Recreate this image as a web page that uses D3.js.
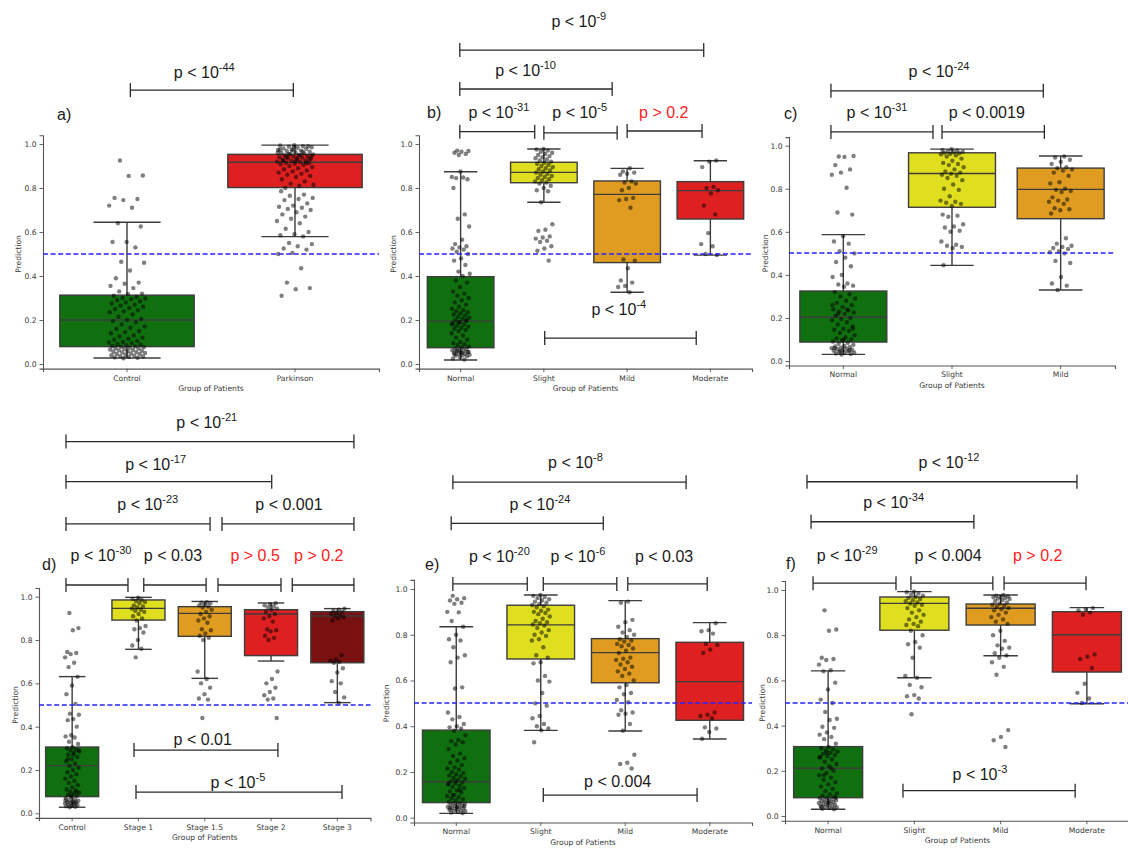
<!DOCTYPE html>
<html>
<head>
<meta charset="utf-8">
<script src="https://cdn.jsdelivr.net/npm/d3@7"></script>
<style>
  body { margin: 0; background: #fff; }
  svg { display: block; }
</style>
</head>
<body>
<svg id="chart" width="1128" height="850"></svg>
<script>
// ---------- data ----------
// box statistics per group: [lower whisker, Q1, median, Q3, upper whisker]

const catsA = ["Control", "Parkinson"];
const statsA = [[0.027, 0.079, 0.200, 0.313, 0.644], [0.579, 0.802, 0.917, 0.953, 0.995]];
const ptsA = [
  [0.925,0.857,0.855,0.755,0.75,0.745,0.72,0.71,0.64,0.625,0.555,0.555,0.53,0.465,0.46,0.425,0.39,0.37,0.365,0.355,0.345,0.33,0.32,0.318,
   0.31,0.305,0.30,0.298,0.295,0.29,0.285,0.28,0.275,0.27,0.265,0.26,0.255,0.25,0.245,0.24,0.235,0.225,0.215,0.205,0.2,0.195,0.19,0.18,0.17,0.165,0.16,0.15,0.145,0.14,0.13,0.125,0.12,0.115,0.11,0.105,0.1,0.098,0.095,0.09,0.088,0.085,0.082,0.08,0.078,0.076,0.074,0.072,0.07,0.068,0.066,0.064,0.062,0.06,0.058,0.056,0.054,0.052,0.05,0.048,0.046,0.044,0.042,0.04,0.038,0.036,0.034,0.032,0.03,0.028,0.026],
  [0.995,0.993,0.99,0.988,0.985,0.983,0.98,0.978,0.975,0.973,0.97,0.968,0.965,0.963,0.96,0.958,0.955,0.953,0.95,0.948,0.945,0.943,0.94,0.938,0.935,0.933,0.93,0.928,0.925,0.923,0.92,0.918,0.915,0.913,0.91,0.908,0.905,0.9,0.895,0.89,0.885,0.88,0.875,0.87,0.865,0.86,0.855,0.85,0.84,0.83,0.82,0.815,0.81,0.8,
   0.99,0.985,0.975,0.965,0.955,0.945,0.935,0.925,0.915,0.97,0.96,0.95,0.94,0.93,0.92,
   0.785,0.77,0.765,0.755,0.75,0.745,0.73,0.72,0.715,0.71,0.705,0.7,0.69,0.68,0.67,0.66,0.65,0.64,0.615,0.6,0.59,0.585,0.58,0.55,0.545,0.535,0.525,0.52,0.505,0.5,0.435,0.37,0.345,0.34,0.31]
];

const catsB = ["Normal", "Slight", "Mild", "Moderate"];
const statsB = [[0.018, 0.074, 0.195, 0.397, 0.874], [0.735, 0.824, 0.871, 0.917, 0.977],
                [0.326, 0.461, 0.771, 0.832, 0.889], [0.495, 0.659, 0.788, 0.829, 0.924]];
const ptsB = [
  [0.97,0.968,0.965,0.96,0.955,0.95,0.85,0.848,0.845,0.84,0.875,0.8,0.68,0.66,0.625,0.565,0.545,0.535,0.53,0.525,0.52,0.51,0.5,0.48,0.47,0.45,0.42,0.41,0.40,
   0.38,0.37,0.35,0.33,0.32,0.31,0.3,0.29,0.28,0.27,0.26,0.25,0.245,0.24,0.235,0.23,0.225,0.22,0.215,0.21,0.205,0.2,0.195,0.19,0.185,0.18,0.175,0.17,0.165,0.16,0.155,0.15,0.14,0.13,0.12,0.11,0.1,0.095,0.09,0.085,0.08,0.075,0.07,0.068,0.065,0.062,0.06,0.058,0.055,0.052,0.05,0.048,0.045,0.042,0.04,0.038,0.035,0.03,0.025,0.02,0.06,0.055,0.05,0.045,0.2,0.19,0.18],
  [0.977,0.975,0.97,0.965,0.96,0.955,0.95,0.945,0.94,0.935,0.93,0.925,0.92,0.915,0.91,0.905,0.9,0.895,0.89,0.885,0.88,0.875,0.87,0.865,0.86,0.855,0.85,0.845,0.84,0.835,0.83,0.825,0.82,0.81,0.8,0.79,0.785,0.735,0.635,0.61,0.605,0.58,0.575,0.57,0.56,0.555,0.535,0.525,0.515,0.47],
  [0.89,0.875,0.87,0.865,0.86,0.83,0.825,0.82,0.8,0.79,0.755,0.75,0.745,0.71,0.475,0.47,0.435,0.38,0.37,0.355,0.35,0.326],
  [0.925,0.92,0.895,0.805,0.8,0.79,0.775,0.72,0.68,0.595,0.545,0.535,0.5,0.495]
];

const catsC = ["Normal", "Slight", "Mild"];
const statsC = [[0.031, 0.088, 0.203, 0.325, 0.587], [0.444, 0.714, 0.871, 0.967, 0.984], [0.330, 0.661, 0.797, 0.896, 0.952]];
const ptsC = [
  [0.95,0.952,0.948,0.91,0.89,0.875,0.865,0.805,0.69,0.68,0.58,0.555,0.545,0.51,0.5,0.48,0.46,0.44,0.4,0.39,0.36,0.355,0.35,0.345,
   0.32,0.31,0.3,0.29,0.28,0.27,0.26,0.25,0.24,0.235,0.23,0.225,0.22,0.21,0.2,0.195,0.19,0.18,0.17,0.16,0.15,0.145,0.14,0.13,0.12,0.11,0.105,0.1,0.095,0.09,0.085,0.08,0.075,0.07,0.068,0.065,0.062,0.06,0.058,0.055,0.052,0.05,0.048,0.045,0.042,0.04,0.038,0.035,0.032,0.03,0.26,0.24,0.22,0.15,0.1,0.06,0.05,0.045],
  [0.984,0.98,0.978,0.975,0.972,0.97,0.968,0.965,0.962,0.96,0.955,0.95,0.94,0.93,0.92,0.915,0.91,0.9,0.89,0.88,0.875,0.87,0.865,0.86,0.85,0.84,0.82,0.8,0.795,0.765,0.745,0.74,0.735,0.73,0.72,0.68,0.675,0.67,0.635,0.625,0.62,0.605,0.6,0.555,0.54,0.535,0.53,0.525,0.445],
  [0.95,0.945,0.935,0.925,0.915,0.9,0.895,0.89,0.885,0.875,0.86,0.83,0.825,0.8,0.795,0.79,0.785,0.76,0.75,0.745,0.74,0.73,0.71,0.705,0.7,0.685,0.57,0.545,0.535,0.53,0.525,0.52,0.51,0.505,0.5,0.465,0.455,0.39,0.36,0.35,0.33]
];

const catsD = ["Control", "Stage 1", "Stage 1.5", "Stage 2", "Stage 3"];
const statsD = [[0.028, 0.077, 0.220, 0.306, 0.631], [0.757, 0.892, 0.946, 0.985, 0.997], [0.623, 0.817, 0.923, 0.954, 0.978],
                [0.703, 0.728, 0.920, 0.940, 0.971], [0.511, 0.695, 0.911, 0.931, 0.945]];
const ptsD = [
  [0.925,0.855,0.845,0.745,0.74,0.735,0.72,0.695,0.675,0.63,0.59,0.55,0.505,0.46,0.455,0.435,0.43,0.4,0.36,0.355,0.35,0.33,0.32,
   0.305,0.3,0.295,0.29,0.285,0.28,0.27,0.26,0.25,0.24,0.23,0.22,0.21,0.2,0.19,0.18,0.17,0.16,0.15,0.14,0.13,0.12,0.11,0.105,0.1,0.095,0.09,0.085,0.08,0.075,0.07,0.065,0.06,0.058,0.055,0.052,0.05,0.048,0.045,0.042,0.04,0.038,0.035,0.032,0.03,0.028,0.29,0.27,0.25,0.1,0.08,0.06,0.05],
  [0.995,0.99,0.985,0.98,0.975,0.97,0.96,0.955,0.95,0.945,0.94,0.935,0.93,0.92,0.91,0.9,0.89,0.865,0.855,0.85,0.835,0.8,0.775,0.76,0.72],
  [0.975,0.972,0.97,0.965,0.96,0.955,0.95,0.94,0.93,0.92,0.91,0.9,0.89,0.88,0.85,0.845,0.83,0.82,0.81,0.8,0.655,0.62,0.6,0.58,0.55,0.53,0.525,0.44],
  [0.97,0.965,0.96,0.955,0.95,0.945,0.94,0.93,0.92,0.91,0.9,0.885,0.85,0.845,0.84,0.82,0.81,0.8,0.655,0.62,0.6,0.58,0.56,0.545,0.53,0.525,0.44],
  [0.945,0.94,0.935,0.93,0.925,0.92,0.915,0.91,0.905,0.9,0.89,0.73,0.71,0.705,0.7,0.695,0.67,0.65,0.61,0.6,0.56,0.535,0.51]
];

const catsE = ["Normal", "Slight", "Mild", "Moderate"];
const statsE = [[0.019, 0.066, 0.157, 0.383, 0.835], [0.382, 0.694, 0.843, 0.929, 0.974],
                [0.379, 0.590, 0.722, 0.783, 0.949], [0.344, 0.426, 0.595, 0.767, 0.853]];
const ptsE = [
  [0.97,0.96,0.955,0.95,0.94,0.935,0.9,0.898,0.86,0.835,0.8,0.78,0.775,0.745,0.71,0.7,0.68,0.57,0.565,0.46,0.44,0.43,0.41,0.4,0.395,0.39,
   0.38,0.36,0.34,0.335,0.33,0.32,0.3,0.28,0.27,0.26,0.25,0.24,0.23,0.22,0.215,0.21,0.2,0.195,0.19,0.185,0.18,0.175,0.17,0.165,0.16,0.155,0.15,0.145,0.14,0.135,0.13,0.12,0.115,0.11,0.1,0.095,0.09,0.085,0.08,0.075,0.07,0.065,0.062,0.06,0.058,0.055,0.052,0.05,0.048,0.045,0.042,0.04,0.038,0.035,0.032,0.03,0.028,0.025,0.022,0.02,0.16,0.15,0.12,0.1,0.05,0.045,0.04],
  [0.974,0.97,0.965,0.96,0.955,0.95,0.945,0.94,0.935,0.93,0.925,0.92,0.91,0.905,0.9,0.895,0.89,0.88,0.87,0.86,0.855,0.85,0.845,0.84,0.83,0.82,0.81,0.8,0.795,0.78,0.775,0.745,0.71,0.7,0.68,0.675,0.62,0.6,0.595,0.545,0.5,0.49,0.445,0.435,0.41,0.4,0.39,0.382,0.33],
  [0.945,0.94,0.865,0.855,0.835,0.82,0.81,0.8,0.79,0.78,0.775,0.77,0.76,0.755,0.75,0.74,0.73,0.72,0.7,0.695,0.69,0.68,0.67,0.66,0.65,0.64,0.63,0.62,0.6,0.58,0.57,0.545,0.54,0.515,0.505,0.47,0.46,0.455,0.45,0.41,0.38,0.275,0.24,0.235,0.215],
  [0.85,0.82,0.815,0.805,0.76,0.755,0.735,0.72,0.46,0.45,0.445,0.435,0.395,0.39,0.375,0.345]
];

const catsF = ["Normal", "Slight", "Mild", "Moderate"];
const statsF = [[0.030, 0.081, 0.211, 0.307, 0.642], [0.612, 0.822, 0.941, 0.969, 0.993],
                [0.709, 0.845, 0.919, 0.938, 0.978], [0.497, 0.637, 0.802, 0.904, 0.922]];
const ptsF = [
  [0.91,0.825,0.82,0.7,0.695,0.69,0.67,0.645,0.64,0.59,0.56,0.515,0.5,0.46,0.43,0.425,0.395,0.39,0.37,0.36,0.35,0.34,0.32,
   0.305,0.3,0.295,0.29,0.285,0.28,0.275,0.27,0.265,0.26,0.25,0.24,0.23,0.22,0.21,0.2,0.19,0.18,0.17,0.16,0.15,0.14,0.13,0.12,0.11,0.1,0.095,0.09,0.085,0.08,0.078,0.075,0.072,0.07,0.068,0.065,0.062,0.06,0.058,0.055,0.052,0.05,0.048,0.045,0.042,0.04,0.038,0.035,0.032,0.03,0.28,0.26,0.21,0.18,0.08,0.06,0.04],
  [0.993,0.99,0.985,0.98,0.975,0.97,0.965,0.96,0.955,0.95,0.945,0.94,0.935,0.93,0.92,0.91,0.9,0.89,0.88,0.87,0.86,0.85,0.845,0.84,0.82,0.8,0.77,0.76,0.745,0.7,0.62,0.612,0.58,0.57,0.535,0.53,0.52,0.45],
  [0.978,0.975,0.972,0.97,0.968,0.965,0.962,0.96,0.955,0.95,0.945,0.94,0.935,0.93,0.925,0.92,0.915,0.91,0.9,0.89,0.88,0.87,0.86,0.85,0.82,0.8,0.775,0.755,0.745,0.74,0.72,0.71,0.7,0.68,0.66,0.625,0.38,0.35,0.335,0.305],
  [0.92,0.915,0.91,0.9,0.89,0.715,0.705,0.695,0.655,0.585,0.545,0.52,0.5]
];

// significance annotations: bracket between category positions (from/to), at a prediction level,
// label centred at tx, baseline at tv
const notesA = [
  {from: 0.02, to: 0.99, at: 1.245, tx: 0.46, tv: 1.30, base: "p < 10", exp: "-44"}
];
const notesB = [
  {from: -0.01, to: 2.92, at: 1.427, tx: 1.42, tv: 1.532, base: "p < 10", exp: "-9"},
  {from: -0.01, to: 1.82, at: 1.25, tx: 0.78, tv: 1.309, base: "p < 10", exp: "-10"},
  {from: -0.01, to: 0.89, at: 1.056, tx: 0.46, tv: 1.118, base: "p < 10", exp: "-31"},
  {from: 1.0, to: 1.88, at: 1.051, tx: 1.43, tv: 1.118, base: "p < 10", exp: "-5"},
  {from: 2.0, to: 2.9, at: 1.059, tx: 2.44, tv: 1.118, base: "p > 0.2", red: true},
  {from: 1.01, to: 2.83, at: 0.118, tx: 1.9, tv: 0.223, base: "p < 10", exp: "-4"}
];
const notesC = [
  {from: -0.114, to: 1.84, at: 1.255, tx: 0.88, tv: 1.319, base: "p < 10", exp: "-24"},
  {from: -0.114, to: 0.825, at: 1.064, tx: 0.31, tv: 1.129, base: "p < 10", exp: "-31"},
  {from: 0.908, to: 1.85, at: 1.064, tx: 1.32, tv: 1.129, base: "p < 0.0019"}
];
const notesD = [
  {from: -0.093, to: 4.25, at: 1.716, tx: 2.03, tv: 1.779, base: "p < 10", exp: "-21"},
  {from: -0.093, to: 3.01, at: 1.531, tx: 1.26, tv: 1.585, base: "p < 10", exp: "-17"},
  {from: -0.093, to: 2.08, at: 1.336, tx: 1.14, tv: 1.40, base: "p < 10", exp: "-23"},
  {from: 2.26, to: 4.25, at: 1.336, tx: 3.27, tv: 1.40, base: "p < 0.001"},
  {from: -0.093, to: 0.842, at: 1.054, tx: 0.435, tv: 1.166, base: "p < 10", exp: "-30"},
  {from: 1.08, to: 2.02, at: 1.054, tx: 1.52, tv: 1.166, base: "p < 0.03"},
  {from: 2.2, to: 3.15, at: 1.054, tx: 2.76, tv: 1.166, base: "p > 0.5", red: true},
  {from: 3.32, to: 4.25, at: 1.054, tx: 3.72, tv: 1.166, base: "p > 0.2", red: true},
  {from: 0.933, to: 3.104, at: 0.292, tx: 1.97, tv: 0.316, base: "p < 0.01"},
  {from: 0.963, to: 4.07, at: 0.098, tx: 2.5, tv: 0.117, base: "p < 10", exp: "-5"}
];
const notesE = [
  {from: -0.04, to: 2.72, at: 1.467, tx: 1.41, tv: 1.528, base: "p < 10", exp: "-8"},
  {from: -0.06, to: 1.74, at: 1.287, tx: 0.99, tv: 1.345, base: "p < 10", exp: "-24"},
  {from: -0.04, to: 0.84, at: 1.022, tx: 0.51, tv: 1.119, base: "p < 10", exp: "-20"},
  {from: 1.03, to: 1.9, at: 1.022, tx: 1.44, tv: 1.119, base: "p < 10", exp: "-6"},
  {from: 2.03, to: 2.97, at: 1.022, tx: 2.46, tv: 1.119, base: "p < 0.03"},
  {from: 1.03, to: 2.85, at: 0.099, tx: 1.91, tv: 0.133, base: "p < 0.004"}
];
const notesF = [
  {from: -0.245, to: 2.885, at: 1.479, tx: 1.40, tv: 1.539, base: "p < 10", exp: "-12"},
  {from: -0.198, to: 1.69, at: 1.302, tx: 0.76, tv: 1.361, base: "p < 10", exp: "-34"},
  {from: -0.175, to: 0.787, at: 1.03, tx: 0.22, tv: 1.13, base: "p < 10", exp: "-29"},
  {from: 0.96, to: 1.91, at: 1.03, tx: 1.39, tv: 1.13, base: "p < 0.004"},
  {from: 2.04, to: 2.99, at: 1.03, tx: 2.43, tv: 1.13, base: "p > 0.2", red: true},
  {from: 0.868, to: 2.864, at: 0.112, tx: 1.76, tv: 0.159, base: "p < 10", exp: "-3"}
];

const yTicks = [0, 0.2, 0.4, 0.6, 0.8, 1.0];
const threshold = 0.5;

// ---------- styling ----------
const C = {
  green: "#107010", yellow: "#dfdf20", orange: "#df9c20", red: "#df2020", darkred: "#7a1111"
};
const EDGE = "#3d3d3d";
const AXIS_FONT = "'DejaVu Sans', sans-serif";
const NOTE_FONT = "'Liberation Sans', Arial, sans-serif";

const panels = [
  {tag: "a)", cats: catsA, stats: statsA, pts: ptsA, notes: notesA, fill: [C.green, C.red],
   box: {x0: 43, x1: 379, y0: 364, y1: 144, ylab: 18, lab: [57, 120]}},
  {tag: "b)", cats: catsB, stats: statsB, pts: ptsB, notes: notesB, fill: [C.green, C.yellow, C.orange, C.red],
   box: {x0: 419, x1: 752, y0: 364, y1: 144, ylab: 393, lab: [427, 118]}},
  {tag: "c)", cats: catsC, stats: statsC, pts: ptsC, notes: notesC, fill: [C.green, C.yellow, C.orange],
   box: {x0: 789, x1: 1115, y0: 361, y1: 145.7, ylab: 765, lab: [784, 119]}},
  {tag: "d)", cats: catsD, stats: statsD, pts: ptsD, notes: notesD, fill: [C.green, C.yellow, C.orange, C.red, C.darkred],
   box: {x0: 39, x1: 370.5, y0: 813.3, y1: 596.7, ylab: 15, lab: [42, 570]}},
  {tag: "e)", cats: catsE, stats: statsE, pts: ptsE, notes: notesE, fill: [C.green, C.yellow, C.orange, C.red],
   box: {x0: 414, x1: 752, y0: 817.7, y1: 589, ylab: 386, lab: [425, 570]}},
  {tag: "f)", cats: catsF, stats: statsF, pts: ptsF, notes: notesF, fill: [C.green, C.yellow, C.orange, C.red],
   box: {x0: 785, x1: 1130, y0: 816, y1: 590, ylab: 762, lab: [786, 569]}}
];

const svg = d3.select("#chart");

function drawPanel(p) {
  const b = p.box;
  const k = b.y0 - b.y1;                       // pixels per unit of prediction
  const yMin = -0.021, yMax = 1.04;
  const y = d3.scaleLinear().domain([yMin, yMax]).range([b.y0 - yMin * k, b.y0 - yMax * k]);
  const x = d3.scaleBand().domain(p.cats).range([b.x0, b.x1]).padding(0);
  const step = x.bandwidth();
  const cx = c => x(c) + step / 2;
  const xi = d3.scaleLinear().domain([0, p.cats.length - 1])
    .range([cx(p.cats[0]), cx(p.cats[p.cats.length - 1])]);
  const boxW = step * 0.8;

  const g = svg.append("g");

  // axes
  const yAx = g.append("g").attr("transform", `translate(${b.x0},0)`)
    .call(d3.axisLeft(y).tickValues(yTicks).tickFormat(d3.format(".1f")).tickSizeOuter(0).tickSize(3.5).tickPadding(3));
  const xAx = g.append("g").attr("transform", `translate(0,${y(yMin)})`)
    .call(d3.axisBottom(x).tickSizeOuter(0).tickSize(3.5).tickPadding(3));
  [yAx, xAx].forEach(a => {
    a.select(".domain").attr("stroke", "#555").attr("stroke-width", 1.1);
    a.selectAll(".tick line").attr("stroke", "#555").attr("stroke-width", 0.9);
    a.selectAll(".tick text").attr("fill", "#3a3a3a").style("font-family", AXIS_FONT).style("font-size", "7.6px");
  });

  g.append("text")
    .attr("x", (b.x0 + b.x1) / 2)
    .attr("y", y(yMin) + 22)
    .attr("text-anchor", "middle")
    .attr("fill", "#3a3a3a").style("font-family", AXIS_FONT).style("font-size", "7.6px")
    .text("Group of Patients");

  g.append("text")
    .attr("transform", `translate(${b.ylab},${(y(0) + y(1)) / 2}) rotate(-90)`)
    .attr("text-anchor", "middle").attr("dy", "0.35em")
    .attr("fill", "#3a3a3a").style("font-family", AXIS_FONT).style("font-size", "7.6px")
    .text("Prediction");

  // boxes
  p.cats.forEach((c, i) => {
    const [lo, q1, med, q3, hi] = p.stats[i];
    const xc = cx(c);
    const bg = g.append("g");
    bg.append("line").attr("x1", xc).attr("x2", xc).attr("y1", y(q1)).attr("y2", y(lo))
      .attr("stroke", EDGE).attr("stroke-width", 1.4);
    bg.append("line").attr("x1", xc).attr("x2", xc).attr("y1", y(q3)).attr("y2", y(hi))
      .attr("stroke", EDGE).attr("stroke-width", 1.4);
    [lo, hi].forEach(v => bg.append("line")
      .attr("x1", xc - boxW / 4).attr("x2", xc + boxW / 4).attr("y1", y(v)).attr("y2", y(v))
      .attr("stroke", EDGE).attr("stroke-width", 1.4));
    bg.append("rect").attr("x", xc - boxW / 2).attr("width", boxW)
      .attr("y", y(q3)).attr("height", y(q1) - y(q3))
      .attr("fill", p.fill[i]).attr("stroke", EDGE).attr("stroke-width", 1.4);
    bg.append("line").attr("x1", xc - boxW / 2).attr("x2", xc + boxW / 2).attr("y1", y(med)).attr("y2", y(med))
      .attr("stroke", EDGE).attr("stroke-width", 1.4);
  });

  // jittered points (deterministic low-discrepancy spread)
  p.cats.forEach((c, i) => {
    const xc = cx(c);
    const half = 0.11 * step;
    g.append("g").selectAll("circle").data(p.pts[i]).join("circle")
      .attr("cx", (d, j) => xc + (((j * 0.6180339887 + 0.31 + i * 0.17) % 1) - 0.5) * 2 * half)
      .attr("cy", d => y(d))
      .attr("r", 2.2)
      .attr("fill", "#000").attr("fill-opacity", 0.5);
  });

  // decision threshold, snapped to the pixel grid so every panel renders alike
  const yT = Math.round(y(threshold));
  g.append("line").attr("x1", b.x0).attr("x2", b.x1).attr("y1", yT).attr("y2", yT)
    .attr("stroke", "#2323ff").attr("stroke-width", 1.4).attr("stroke-dasharray", "5,2.6");

  // panel tag
  g.append("text").attr("x", p.box.lab[0]).attr("y", p.box.lab[1])
    .style("font-family", NOTE_FONT).style("font-size", "16px").attr("fill", "#1a1a1a")
    .text(p.tag);

  // significance brackets
  p.notes.forEach(n => {
    const yy = y(n.at);
    const ng = g.append("g").attr("stroke", "#2a2a2a").attr("stroke-width", 1.3);
    ng.append("line").attr("x1", xi(n.from)).attr("x2", xi(n.to)).attr("y1", yy).attr("y2", yy);
    [n.from, n.to].forEach(v => ng.append("line")
      .attr("x1", xi(v)).attr("x2", xi(v)).attr("y1", yy - 7).attr("y2", yy + 7));
    const t = g.append("text").attr("x", xi(n.tx)).attr("y", y(n.tv))
      .attr("text-anchor", "middle")
      .style("font-family", NOTE_FONT).style("font-size", "16px")
      .attr("fill", n.red ? "#ff2222" : "#1a1a1a");
    t.append("tspan").text(n.base);
    if (n.exp) t.append("tspan").attr("dy", -7).style("font-size", "11px").text(n.exp);
  });
}

panels.forEach(drawPanel);
</script>
</body>
</html>
